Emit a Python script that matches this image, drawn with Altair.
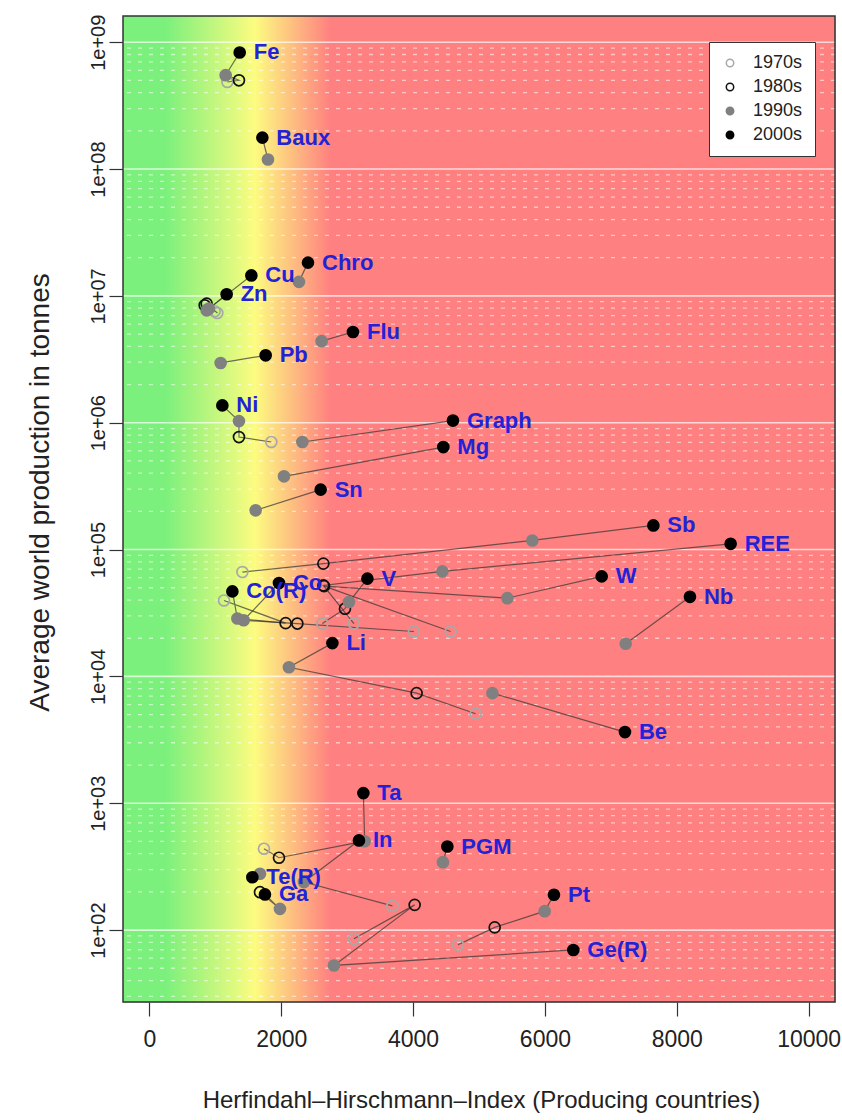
import altair as alt
import pandas as pd

# ---------------- data ----------------
minerals = ["Fe", "Baux", "Chro", "Cu", "Zn", "Flu", "Pb", "Ni", "Graph", "Mg", "Sn",
            "Sb", "REE", "W", "V", "Co", "Co(R)", "Nb", "Li", "Be", "Ta", "In", "PGM",
            "Te(R)", "Ga", "Pt", "Ge(R)"]

hhi_1970s = [1183, None, None, 1031, 990, None, None, 1850, None, None, None,
             1411, 3103, 4570, 2624, 4013, 1132, None, 4949, None, 1738, 3686, None,
             None, None, 4681, 3103]
prod_1970s = [4.86e8, None, None, 7.33e6, 7.57e6, None, None, 7.05e5, None, None, None,
              6.65e4, 2.61e4, 2.26e4, 2.61e4, 2.26e4, 3.97e4, None, 5080, None, 438, 155, None,
              None, None, 76.6, 85.3]

hhi_1980s = [1359, None, None, 869, 839, None, None, 1359, None, None, None,
             2639, 2639, 2650, 2967, 2245, 2067, None, 4054, None, 1966, None, None,
             None, 1678, 5238, 4024]
prod_1980s = [5.01e8, None, None, 8.69e6, 8.43e6, None, None, 7.71e5, None, None, None,
              7.75e4, 5.22e4, 5.15e4, 3.42e4, 2.61e4, 2.63e4, None, 7380, None, 372, None, None,
              None, 199, 105, 158]

hhi_1990s = [1157, 1799, 2269, 904, 869, 2613, 1081, 1359, 2321, 2042, 1612,
             5809, 4444, 5430, 3028, 1430, 1335, 7225, 2117, 5203, 3266, 2345, 4453,
             1678, 1981, 5996, 2800]
prod_1990s = [5.50e8, 1.19e8, 1.29e7, 7.94e6, 7.69e6, 4.40e6, 2.96e6, 1.03e6, 7.05e5, 3.78e5, 2.04e5,
              1.18e5, 6.73e4, 4.14e4, 3.86e4, 2.77e4, 2.86e4, 1.81e4, 1.18e4, 7380, 502, 239, 343,
              278, 147, 141, 52.6]

hhi_2000s = [1370, 1714, 2406, 1547, 1172, 3088, 1764, 1107, 4605, 4459, 2598,
             7645, 8817, 6861, 3307, 1966, 1259, 8200, 2776, 7214, 3246, 3179, 4520,
             1562, 1753, 6137, 6431]
prod_2000s = [8.30e8, 1.77e8, 1.83e7, 1.45e7, 1.03e7, 5.19e6, 3.40e6, 1.37e6, 1.04e6, 6.43e5, 2.97e5,
              1.55e5, 1.11e5, 6.15e4, 5.90e4, 5.45e4, 4.68e4, 4.24e4, 1.83e4, 3640, 1202, 509, 456,
              261, 191, 190, 69.7]

decades = ["1970s", "1980s", "1990s", "2000s"]
y_ticks = [1e2, 1e3, 1e4, 1e5, 1e6, 1e7, 1e8, 1e9]
x_ticks = [0, 2000, 4000, 6000, 8000, 10000]

# ---------------- build tables ----------------
X_DOMAIN = [-400, 10400]
Y_DOMAIN = [27.1, 1.61e9]

series = [(hhi_1970s, prod_1970s), (hhi_1980s, prod_1980s),
          (hhi_1990s, prod_1990s), (hhi_2000s, prod_2000s)]
rows = []
for k, (d, (hs, ps)) in enumerate(zip(decades, series)):
    for i, m in enumerate(minerals):
        if hs[i] is not None:
            rows.append({"mineral": m, "decade": d, "order": k, "hhi": hs[i], "prod": ps[i]})
df = pd.DataFrame(rows)
df_lab = df[df["decade"] == "2000s"]

minor = [m * 10 ** e for e in range(1, 10) for m in range(2, 10)]
minor = [v for v in minor if Y_DOMAIN[0] < v < Y_DOMAIN[1]]

xs = alt.Scale(domain=X_DOMAIN, nice=False, zero=False)
ys = alt.Scale(type="log", domain=Y_DOMAIN, nice=False)

FONT = "Liberation Sans"
TXT = "#222222"

x_axis = alt.Axis(
    values=x_ticks, format="d", grid=False, domain=False,
    tickColor="#333333", tickSize=14, tickWidth=1.2,
    labelFont=FONT, labelFontSize=23, labelColor=TXT, labelPadding=12,
    title="Herfindahl–Hirschmann–Index (Producing countries)",
    titleFont=FONT, titleFontSize=24, titleFontWeight="normal", titleColor=TXT,
    titleX=358, titleY=98, titleBaseline="middle", titleAlign="center",
)
y_axis = alt.Axis(
    values=y_ticks, grid=False, domain=False,
    labelExpr="'1e+0' + round(log(datum.value) / LN10)",
    labelAngle=270, labelAlign="center", labelBaseline="bottom",
    tickColor="#333333", tickSize=14, tickWidth=1.2,
    labelFont=FONT, labelFontSize=20, labelColor=TXT, labelPadding=1,
    title="Average world production in tonnes",
    titleFont=FONT, titleFontSize=28, titleFontWeight="normal", titleColor=TXT,
    titleAngle=270, titleX=-83, titleY=476, titleBaseline="middle", titleAlign="center",
)

def frac(h):
    return (h - X_DOMAIN[0]) / (X_DOMAIN[1] - X_DOMAIN[0])

gradient = alt.Gradient(
    gradient="linear",
    stops=[
        alt.GradientStop(offset=0, color="#7cf07c"),
        alt.GradientStop(offset=frac(250), color="#7cf07c"),
        alt.GradientStop(offset=frac(1600), color="#fcfc80"),
        alt.GradientStop(offset=frac(2750), color="#ff8080"),
        alt.GradientStop(offset=1, color="#ff8080"),
    ],
    x1=0, x2=1, y1=0, y2=0,
)

one = pd.DataFrame({"a": [0]})

background = alt.Chart(one).mark_rect(fill=gradient).encode(
    x=alt.value(0), x2=alt.value("width"), y=alt.value(0), y2=alt.value("height")
)

frame = alt.Chart(one).mark_rect(fill="transparent", stroke="#333333", strokeWidth=1.5).encode(
    x=alt.value(0), x2=alt.value("width"), y=alt.value(0), y2=alt.value("height")
)

grid_minor = alt.Chart(pd.DataFrame({"prod": minor})).mark_rule(
    color="white", opacity=0.55, strokeWidth=1.3, strokeDash=[4, 7]
).encode(y=alt.Y("prod:Q", scale=ys, axis=y_axis))

grid_major = alt.Chart(pd.DataFrame({"prod": y_ticks})).mark_rule(
    color="white", opacity=0.7, strokeWidth=1.6
).encode(y=alt.Y("prod:Q", scale=ys, axis=y_axis))

x_enc = alt.X("hhi:Q", scale=xs, axis=x_axis)
y_enc = alt.Y("prod:Q", scale=ys, axis=y_axis)

lines = alt.Chart(df).mark_line(color="#333333", opacity=0.7, strokeWidth=1.2).encode(
    x=x_enc, y=y_enc, detail="mineral:N", order="order:Q"
)

leg = alt.Legend(
    title=None, orient="none", legendX=586, legendY=26,
    fillColor="white", strokeColor="#333333", padding=12,
    labelFont=FONT, labelFontSize=18, labelColor=TXT,
    symbolSize=55, symbolStrokeWidth=1.5, labelOffset=14, rowPadding=6,
)

points = alt.Chart(df).mark_point(shape="circle", size=120, strokeWidth=1.7, opacity=1).encode(
    x=x_enc, y=y_enc,
    fill=alt.Fill("decade:N", scale=alt.Scale(domain=decades,
                  range=["transparent", "transparent", "#808080", "#000000"]), legend=leg),
    stroke=alt.Stroke("decade:N", scale=alt.Scale(domain=decades,
                  range=["#a8a8a8", "#111111", "#808080", "#000000"]), legend=leg),
    order=alt.Order("order:Q"),
)

labels = alt.Chart(df_lab).mark_text(
    align="left", baseline="middle", dx=14, font=FONT, fontSize=22,
    fontWeight="bold", color="#2222d8"
).encode(x=x_enc, y=y_enc, text="mineral:N")

chart = alt.layer(background, grid_minor, grid_major, lines, points, labels, frame).properties(
    width=712, height=986,
    autosize=alt.AutoSizeParams(type="none"),
    padding={"left": 123, "top": 16, "right": 7, "bottom": 118},
).configure_view(stroke=None).configure(background="white")

chart.save("out.html", embed_options={"renderer": "svg", "actions": False})
